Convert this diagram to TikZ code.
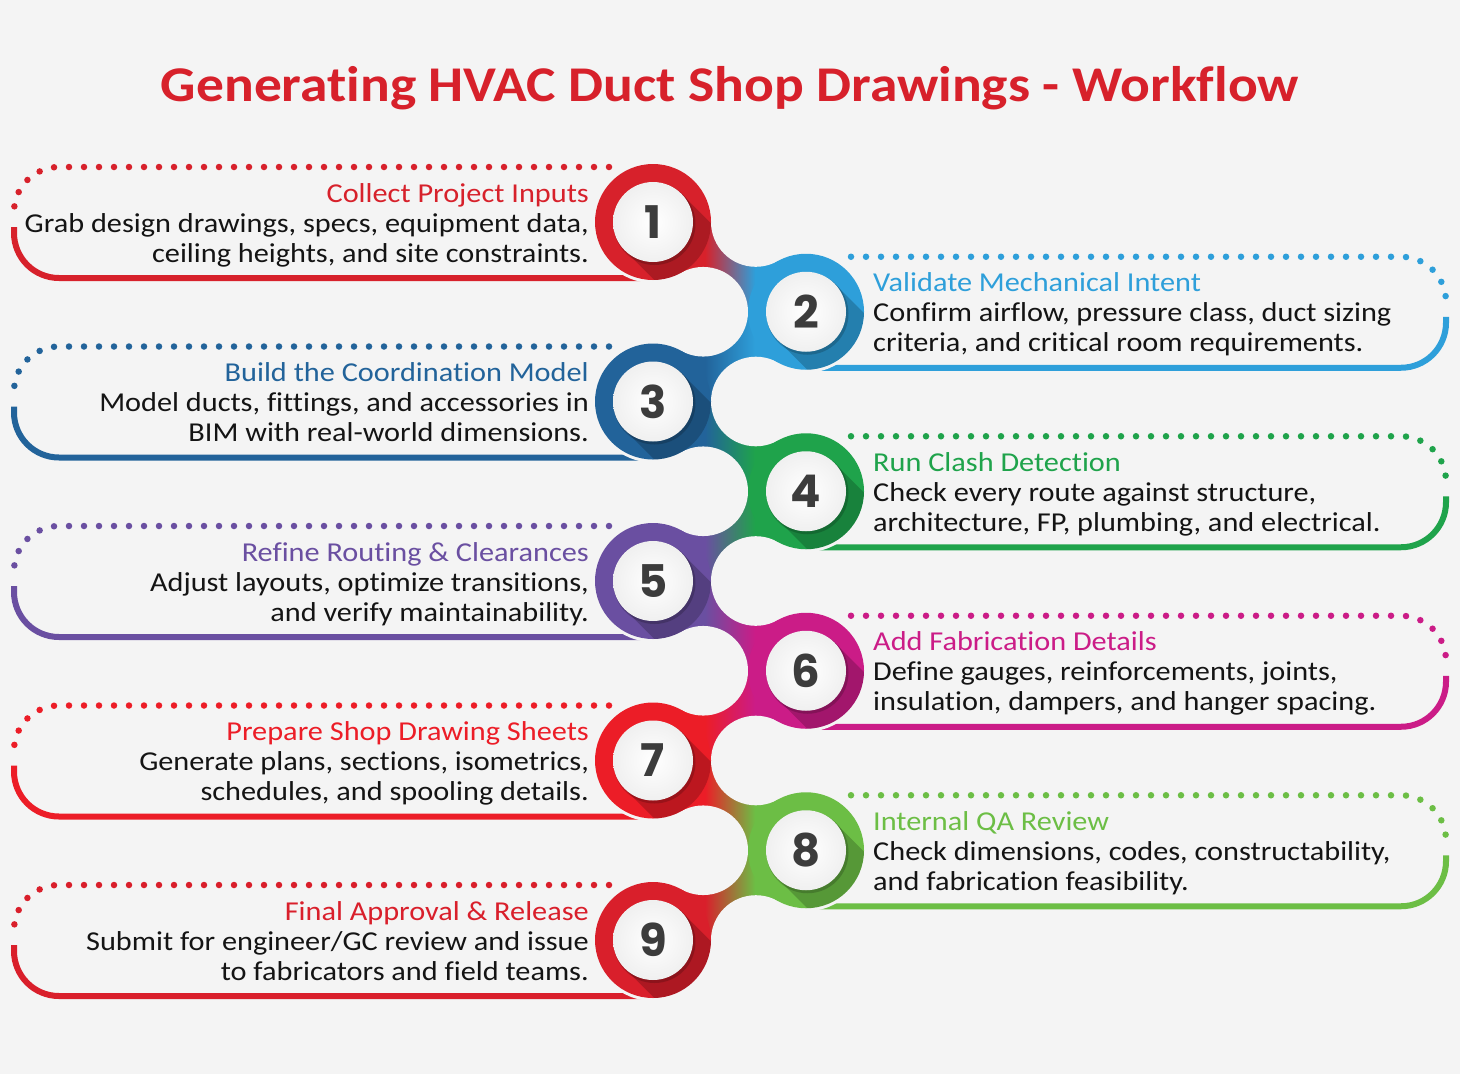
\documentclass[tikz,border=0pt]{standalone}
\usepackage{fontspec}
\setmainfont{Carlito}[FakeStretch=1.11, Ligatures={NoCommon}]
\newfontfamily\digitfont{Poppins}
\usetikzlibrary{calc}
\definecolor{bgc}{HTML}{F4F4F4}
\definecolor{c1}{HTML}{D7212B}
\definecolor{c2}{HTML}{2E9FDA}
\definecolor{c3}{HTML}{22639A}
\definecolor{c4}{HTML}{1FA34B}
\definecolor{c5}{HTML}{6A4FA1}
\definecolor{c6}{HTML}{CB1C87}
\definecolor{c7}{HTML}{EC1D27}
\definecolor{c8}{HTML}{6CBE45}
\definecolor{c9}{HTML}{D91F2B}
\definecolor{txt}{HTML}{141414}
\definecolor{dig}{HTML}{3C3C3C}
\tikzset{
  dotline/.style={line width=6.5pt, line cap=round, dash pattern=on 0pt off 15pt},
  solidline/.style={line width=6pt},
  bodytext/.style={font=\fontsize{27.3}{30}\selectfont, text=txt, inner sep=0pt},
  headtext/.style={font=\fontsize{27.3}{30}\selectfont, inner sep=0pt},
  digit/.style={font=\digitfont\bfseries\fontsize{45}{45}\selectfont, text=dig, inner sep=0pt},
}
\begin{document}
\begin{tikzpicture}[x=1pt,y=-1pt]
\fill[bgc] (0,0) rectangle (1460,1074);
\useasboundingbox (0,0) rectangle (1460,1074);
\node[anchor=base, font=\fontsize{50}{50}\selectfont\bfseries, text=c1, inner sep=0pt] (title) at (730,101) {Generating HVAC Duct Shop Drawings - Workflow};

% centres
\foreach \k in {1,...,9}{
  \pgfmathsetmacro\yc{222+(\k-1)*89.75}
  \ifodd\k \def\xc{653}\else\def\xc{806}\fi
  \coordinate (c\k) at (\xc,\yc);
}

% text boxes
\foreach \k/\ti/\la/\lb in {
  1/{Collect Project Inputs}/{Grab design drawings, specs, equipment data,}/{ceiling heights, and site constraints.},
  2/{Validate Mechanical Intent}/{Confirm airflow, pressure class, duct sizing}/{criteria, and critical room requirements.},
  3/{Build the Coordination Model}/{Model ducts, fittings, and accessories in}/{BIM with real-world dimensions.},
  4/{Run Clash Detection}/{Check every route against structure,}/{architecture, FP, plumbing, and electrical.},
  5/{Refine Routing \& Clearances}/{Adjust layouts, optimize transitions,}/{and verify maintainability.},
  6/{Add Fabrication Details}/{Define gauges, reinforcements, joints,}/{insulation, dampers, and hanger spacing.},
  7/{Prepare Shop Drawing Sheets}/{Generate plans, sections, isometrics,}/{schedules, and spooling details.},
  8/{Internal QA Review}/{Check dimensions, codes, constructability,}/{and fabrication feasibility.},
  9/{Final Approval \& Release}/{Submit for engineer/GC review and issue}/{to fabricators and field teams.}}{
  \pgfmathsetmacro\yt{167+(\k-1)*89.75}
  \pgfmathsetmacro\yb{\yt+111}
  \ifodd\k
    \draw[dotline, c\k] (609,\yt) -- (59,\yt) arc[start angle=270, end angle=180, radius=45] -- (14,\yt+52);
    \draw[solidline, c\k] (14,\yt+60) -- (14,\yb-45) arc[start angle=180, end angle=90, radius=45] -- (660,\yb);
    \node[headtext, text=c\k, anchor=base east] (h\k) at (589,\yt+35) {\ti};
    \node[bodytext, anchor=base east] (a\k) at (589,\yt+65) {\la};
    \node[bodytext, anchor=base east] (b\k) at (589,\yt+95) {\lb};
  \else
    \draw[dotline, c\k] (851,\yt) -- (1401,\yt) arc[start angle=270, end angle=360, radius=45] -- (1446,\yt+52);
    \draw[solidline, c\k] (1446,\yt+60) -- (1446,\yb-45) arc[start angle=0, end angle=90, radius=45] -- (800,\yb);
    \node[headtext, text=c\k, anchor=base west] (h\k) at (873,\yt+35) {\ti};
    \node[bodytext, anchor=base west] (a\k) at (873,\yt+65) {\la};
    \node[bodytext, anchor=base west] (b\k) at (873,\yt+95) {\lb};
  \fi
}

% halos
\foreach \k in {1,...,9}{ \fill[bgc] (c\k) circle[radius=61]; }

% necks
\foreach \k in {1,...,8}{
  \pgfmathtruncatemacro\kk{\k+1}
  \pgfmathsetmacro\ya{222+(\k-1)*89.75}
  \pgfmathsetmacro\yb{\ya+89.75}
  \begin{scope}
  \ifodd\k
    \clip (653,\ya) -- (755.8,\ya) -- (806,\yb) -- (703.2,\yb) -- cycle;
    \fill[c\k] (640,\ya) rectangle (706,\yb);
    \fill[c\kk] (754,\ya) rectangle (820,\yb);
    \fill[left color=c\k, right color=c\kk] (705,\ya) rectangle (755,\yb);
  \else
    \clip (806,\ya) -- (703.2,\ya) -- (653,\yb) -- (755.8,\yb) -- cycle;
    \fill[c\kk] (640,\ya) rectangle (706,\yb);
    \fill[c\k] (754,\ya) rectangle (820,\yb);
    \fill[left color=c\kk, right color=c\k] (705,\ya) rectangle (755,\yb);
  \fi
  \end{scope}
}

% carves
\foreach \k in {1,...,9}{
  \pgfmathsetmacro\yc{222+(\k-1)*89.75}
  \ifodd\k \def\xv{755.8}\else\def\xv{703.2}\fi
  \fill[bgc] (\xv,\yc) circle[radius=44.8];
}

% rings
\foreach \k in {1,...,9}{
  \fill[c\k] (c\k) circle[radius=58];
  \begin{scope}
    \clip (c\k) circle[radius=58];
    \fill[black, opacity=0.2] ($(c\k)+(28.3,-28.3)$) -- ++(90,90) -- ($(c\k)+(61.7,118.3)$) -- ($(c\k)+(-28.3,28.3)$) -- cycle;
  \end{scope}
  \fill[black, opacity=0.18] ($(c\k)+(1.5,2)$) circle[radius=41];
  \shade[inner color=white, outer color=gray!12] (c\k) circle[radius=40];
  \node[digit] (n\k) at (c\k) {\k};
}
\end{tikzpicture}
\end{document}
